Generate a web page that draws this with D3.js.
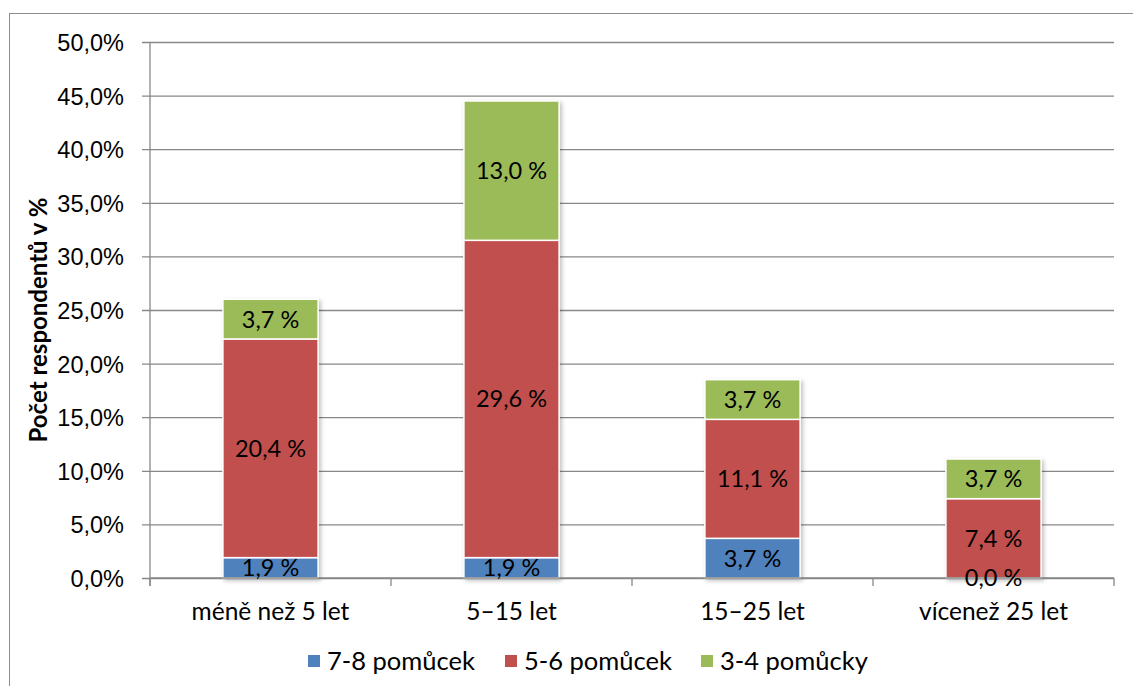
<!DOCTYPE html>
<html>
<head>
<meta charset="utf-8">
<script src="https://cdn.jsdelivr.net/npm/d3@7"></script>
<style>
  html, body { margin: 0; padding: 0; background: #fff; }
  svg { display: block; font-family: Lato, "Open Sans", sans-serif; }
</style>
</head>
<body>
<svg id="chart" width="1133" height="686"></svg>
<script>
// Age groups (years of practice) on the x axis
const categories = ["méně než 5 let", "5–15 let", "15–25 let", "vícenež 25 let"];
// Stacked series, bottom to top, in percent of respondents
const seriesNames = ["7-8 pomůcek", "5-6 pomůcek", "3-4 pomůcky"];
const seriesColors = ["#4F81BD", "#C0504D", "#9BBB59"];
const values78 = [1.9, 1.9, 3.7, 0.0];
const values56 = [20.4, 29.6, 11.1, 7.4];
const values34 = [3.7, 13.0, 3.7, 3.7];
const yTicks = [0, 5, 10, 15, 20, 25, 30, 35, 40, 45, 50];
const yTitle = "Počet respondentů v %";

const svg = d3.select("#chart");

// outer chart frame
svg.append("rect")
  .attr("x", 9.5).attr("y", 13.5)
  .attr("width", 1140).attr("height", 700)
  .attr("fill", "none").attr("stroke", "#8c8c8c").attr("stroke-width", 1);

const plot = { left: 150, right: 1114, top: 42, bottom: 578 };

const x = d3.scaleBand()
  .domain(categories)
  .range([plot.left, plot.right])
  .paddingInner(0.605)
  .paddingOuter(0.3025);

const y = d3.scaleLinear().domain([0, 50]).range([plot.bottom, plot.top]);

// drop shadow for bars
const defs = svg.append("defs");
const f = defs.append("filter").attr("id", "shadow")
  .attr("x", "-10%").attr("y", "-10%").attr("width", "130%").attr("height", "130%");
f.append("feDropShadow").attr("dx", 2).attr("dy", 2).attr("stdDeviation", 2)
  .attr("flood-color", "#000").attr("flood-opacity", 0.25);

// horizontal gridlines with left tick marks
const yAxis = d3.axisLeft(y)
  .tickValues(yTicks)
  .tickSize(-(plot.right - plot.left))
  .tickSizeOuter(0)
  .tickPadding(26)
  .tickFormat(d => d3.format(".1f")(d).replace(".", ",") + "%");

const gy = svg.append("g").attr("transform", `translate(${plot.left},0)`).call(yAxis);
gy.select(".domain").remove();
gy.selectAll(".tick line")
  .attr("x1", -8)
  .attr("stroke", "#888").attr("stroke-width", 1.3);
gy.selectAll(".tick text")
  .attr("font-size", 23.5).attr("fill", "#000")
  .attr("dy", "0.36em");

// vertical axis line
svg.append("line")
  .attr("x1", plot.left).attr("x2", plot.left)
  .attr("y1", plot.top).attr("y2", plot.bottom + 8)
  .attr("stroke", "#888").attr("stroke-width", 1.3);

// category boundary ticks below the baseline
const boundaries = categories.map((c, i) => plot.left + i * x.step());
boundaries.push(plot.right);
svg.append("g").selectAll("line").data(boundaries).join("line")
  .attr("x1", d => d).attr("x2", d => d)
  .attr("y1", plot.bottom).attr("y2", plot.bottom + 8)
  .attr("stroke", "#888").attr("stroke-width", 1.3);

// stacked data
const rows = categories.map((c, i) => ({
  cat: c,
  [seriesNames[0]]: values78[i],
  [seriesNames[1]]: values56[i],
  [seriesNames[2]]: values34[i]
}));
const stacked = d3.stack().keys(seriesNames)(rows);

const bars = svg.append("g").attr("filter", "url(#shadow)");
stacked.forEach((layer, li) => {
  bars.selectAll(null).data(layer).join("rect")
    .attr("x", d => x(d.data.cat))
    .attr("width", x.bandwidth())
    .attr("y", d => y(d[1]))
    .attr("height", d => y(d[0]) - y(d[1]))
    .attr("fill", seriesColors[li])
    .attr("stroke", d => (d[1] - d[0]) > 0 ? "#fff" : "none")
    .attr("stroke-width", 1.5);
});

// baseline drawn over the bar bottoms
svg.append("line")
  .attr("x1", plot.left).attr("x2", plot.right)
  .attr("y1", plot.bottom).attr("y2", plot.bottom)
  .attr("stroke", "#888").attr("stroke-width", 1.3);

// value labels at the centre of each segment
const fmt = v => d3.format(".1f")(v).replace(".", ",") + " %";
stacked.forEach(layer => {
  svg.append("g").selectAll("text").data(layer).join("text")
    .attr("x", d => x(d.data.cat) + x.bandwidth() / 2)
    .attr("y", d => y((d[0] + d[1]) / 2))
    .attr("dy", "0.36em")
    .attr("text-anchor", "middle")
    .attr("font-size", 23.5)
    .attr("fill", "#000")
    .text(d => fmt(d[1] - d[0]));
});

// category labels
svg.append("g").selectAll("text").data(categories).join("text")
  .attr("x", d => x(d) + x.bandwidth() / 2)
  .attr("y", 620)
  .attr("text-anchor", "middle")
  .attr("font-size", 24.5)
  .attr("fill", "#000")
  .text(d => d);

// y axis title
svg.append("text")
  .attr("transform", "translate(47,320) rotate(-90)")
  .attr("text-anchor", "middle")
  .attr("font-size", 24)
  .attr("font-weight", "bold")
  .attr("fill", "#000")
  .text(yTitle);

// legend
const legendX = [308, 505, 701];
const legend = svg.append("g").selectAll("g").data(seriesNames).join("g")
  .attr("transform", (d, i) => `translate(${legendX[i]},655)`);
legend.append("rect")
  .attr("width", 12).attr("height", 12)
  .attr("fill", (d, i) => seriesColors[i]);
legend.append("text")
  .attr("x", 19).attr("y", 6).attr("dy", "0.36em")
  .attr("font-size", 25.5).attr("fill", "#000")
  .text(d => d);
</script>
</body>
</html>
